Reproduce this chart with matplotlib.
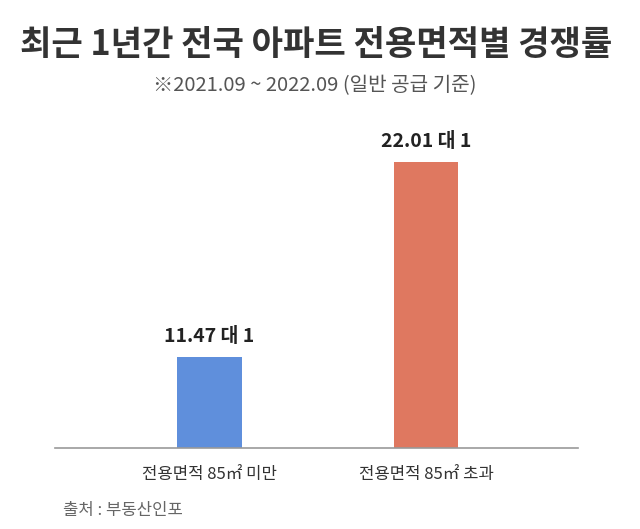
import matplotlib
matplotlib.use('Agg')
import matplotlib.pyplot as plt

plt.rcParams['font.family'] = ['Noto Sans CJK KR', 'DejaVu Sans']

# 데이터
categories = ['전용면적 85㎡ 미만', '전용면적 85㎡ 초과']
ratios = [11.47, 22.01]
value_labels = ['11.47 대 1', '22.01 대 1']
bar_colors = ['#5f8fdc', '#df7860']

title = '최근 1년간 전국 아파트 전용면적별 경쟁률'
subtitle = '※2021.09 ~ 2022.09 (일반 공급 기준)'
source = '출처 : 부동산인포'

fig = plt.figure(figsize=(6.4, 5.29), dpi=100)
ax = fig.add_axes([0.086, 0.153, 0.817, 0.658])

x = range(len(categories))
bars = ax.bar(x, ratios, width=0.30, color=bar_colors, bottom=0)
ax.set_ylim(6.55, 25.36)
ax.set_xlim(-0.714, 1.702)

# 막대 위 값 표시
for xi, v, lab in zip(x, ratios, value_labels):
    ax.annotate(lab, (xi, v), xytext=(0, 8), textcoords='offset points',
                ha='center', va='bottom', fontsize=14, fontweight='bold',
                color='#222222')

ax.set_xticks(list(x))
ax.set_xticklabels(categories, fontsize=12, color='#333333')
ax.tick_params(axis='x', length=0, pad=13)
ax.set_yticks([])
for s in ['top', 'right', 'left']:
    ax.spines[s].set_visible(False)
ax.spines['bottom'].set_color('#999999')
ax.spines['bottom'].set_linewidth(1.2)

fig.text(316 / 640, 1 - 45 / 529, title, ha='center', va='center',
         fontsize=24.6, fontweight='bold', color='#333333')
fig.text(315 / 640, 1 - 86 / 529, subtitle, ha='center', va='center',
         fontsize=14.5, color='#555555')
fig.text(63 / 640, 1 - 510 / 529, source, ha='left', va='center',
         fontsize=12, color='#666666')

fig.savefig('out.png', dpi=100, facecolor='white')
